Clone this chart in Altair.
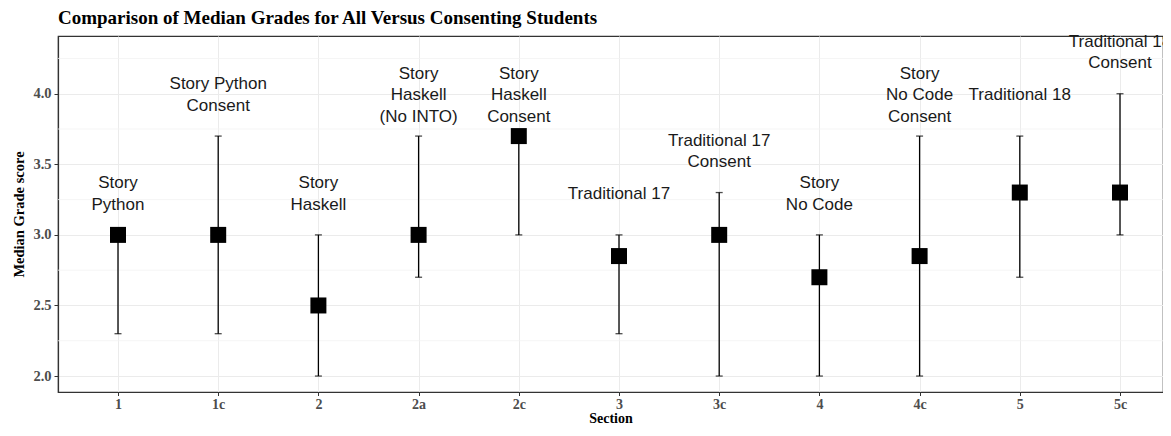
import altair as alt
import pandas as pd

sections = ["1", "1c", "2", "2a", "2c", "3", "3c", "4", "4c", "5", "5c"]
medians = [3.0, 3.0, 2.5, 3.0, 3.7, 2.85, 3.0, 2.7, 2.85, 3.3, 3.3]
lows = [2.3, 2.3, 2.0, 2.7, 3.0, 2.3, 2.0, 2.0, 2.0, 2.7, 3.0]
highs = [3.0, 3.7, 3.0, 3.7, 3.7, 3.0, 3.3, 3.0, 3.7, 3.7, 4.0]
labels = [
    "Story\nPython",
    "Story Python\nConsent",
    "Story\nHaskell",
    "Story\nHaskell\n(No INTO)",
    "Story\nHaskell\nConsent",
    "Traditional 17",
    "Traditional 17\nConsent",
    "Story\nNo Code",
    "Story\nNo Code\nConsent",
    "Traditional 18",
    "Traditional 18\nConsent",
]
minor_grid = [2.25, 2.75, 3.25, 3.75, 4.25]
major_ticks = [2.0, 2.5, 3.0, 3.5, 4.0]

df = pd.DataFrame({"section": sections, "median": medians, "low": lows,
                   "high": highs, "label": labels})
minor_df = pd.DataFrame({"v": minor_grid})

SERIF = "Liberation Serif"
ydom = [1.887, 4.409]
YT = "Median Grade score"
XT = "Section"

x_axis = alt.Axis(
    labelFont=SERIF, labelFontWeight="bold", labelFontSize=14,
    labelColor="#4D4D4D", labelAngle=0, labelPadding=1.5,
    titleFont=SERIF, titleFontWeight="bold", titleFontSize=14,
    titleColor="#000000", titlePadding=0,
    tickColor="#333333", tickSize=3.5, domainColor="#333333",
    domainWidth=1.2, grid=True, gridColor="#EBEBEB", gridWidth=1,
)
x_scale = alt.Scale(type="point", padding=0.514, align=0.5825)
y_scale = alt.Scale(domain=ydom, nice=False, zero=False)
y_axis = alt.Axis(
    values=major_ticks, format=".1f",
    labelFont=SERIF, labelFontWeight="bold", labelFontSize=14.5,
    labelColor="#4D4D4D", labelPadding=3,
    titleFont=SERIF, titleFontWeight="bold", titleFontSize=14.5,
    titleColor="#000000", titlePadding=6,
    tickColor="#333333", tickSize=4, domainColor="#333333", domainWidth=1.2,
    grid=True, gridColor="#EBEBEB", gridWidth=1,
)


def X():
    return alt.X("section:N", sort=sections, scale=x_scale, axis=x_axis, title=XT)


def Y(field):
    return alt.Y(field, scale=y_scale, axis=y_axis, title=YT)


minor = alt.Chart(minor_df).mark_rule(color="#F3F3F3", strokeWidth=0.8).encode(
    y=Y("v:Q")
)

base = alt.Chart(df)

bars = base.mark_rule(color="#000000", strokeWidth=1.3).encode(
    x=X(), y=Y("low:Q"), y2="high:Q",
)
caps_low = base.mark_tick(color="#000000", thickness=1.3, size=7,
                          orient="horizontal").encode(x=X(), y=Y("low:Q"))
caps_high = base.mark_tick(color="#000000", thickness=1.3, size=7,
                           orient="horizontal").encode(x=X(), y=Y("high:Q"))
points = base.mark_point(shape="square", filled=True, color="#000000",
                         size=256, opacity=1).encode(x=X(), y=Y("median:Q"))

text_base = base.transform_calculate(
    nlines="split(datum.label, '\\n').length"
)
LH = 21.5
text_layers = []
for n in (1, 2, 3):
    text_layers.append(
        text_base.transform_filter(alt.datum.nlines == n).mark_text(
            font="Liberation Sans", fontSize=17, color="#1a1a1a",
            lineBreak="\n", lineHeight=LH, baseline="middle",
            align="center", dy=-41 - (n - 1) * LH / 2,
        ).encode(x=X(), y=Y("high:Q"), text="label:N")
    )

chart = alt.layer(minor, bars, caps_low, caps_high, points, *text_layers).properties(
    width=1105,
    height=356,
    title=alt.TitleParams(
        "Comparison of Median Grades for All Versus Consenting Students",
        anchor="start", frame="group", font=SERIF, fontWeight="bold",
        fontSize=19, color="#000000", offset=5,
    ),
    autosize=alt.AutoSizeParams(type="none"),
    padding={"left": 50, "top": 28, "right": 0, "bottom": 32},
).configure_view(
    stroke="#333333", strokeWidth=1.2
)

chart.save("out.html", embed_options={"renderer": "svg", "actions": False})
